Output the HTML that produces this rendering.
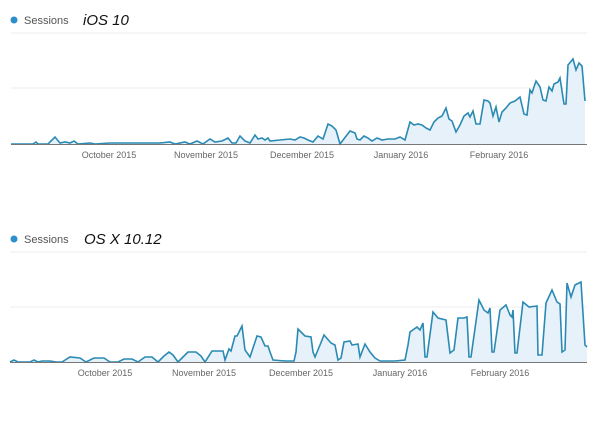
<!DOCTYPE html>
<html><head><meta charset="utf-8"><style>
html,body{margin:0;padding:0;background:#fff;width:600px;height:423px;overflow:hidden}
</style></head><body>
<svg width="600" height="423" xmlns="http://www.w3.org/2000/svg">
<g font-family="Liberation Sans, sans-serif">
<circle cx="14" cy="20" r="3.5" fill="#2d8fc9"/>
<text x="24" y="24" font-size="11" fill="#555">Sessions</text>
<text x="83" y="25" font-size="15" font-style="italic" fill="#111">iOS 10</text>
<line x1="11" y1="33" x2="587" y2="33" stroke="#eee"/>
<line x1="11" y1="88" x2="587" y2="88" stroke="#eee"/>
<polygon fill="#e6f1f9" points="11,144 33,144 36,142 38,144 48,144 55,137 60,143 65,142 70,143 74,141 78,144 90,143 95,144 110,143 130,143 160,143 170,142 175,144 185,142 190,144 197,141 203,144 210,139 215,142 222,141 228,138 232,143 236,143 240,136 245,141 250,143 255,135 258,139 262,138 265,140 268,138 270,141 280,140 290,139 295,140 300,137 304,138 308,140 313,142 318,136 323,139 328,124 332,126 336,130 340,144 350,131 355,133 357,139 360,140 364,136 368,138 372,141 377,138 382,140 388,139 395,139 400,137 405,140 410,122 414,125 418,124 422,125 426,128 430,130 434,122 438,118 442,116 446,108 449,119 452,121 456,132 460,125 464,116 468,113 470,117 473,111 476,124 480,124 484,100 488,101 490,103 493,116 496,107 499,122 502,112 506,108 510,103 515,101 520,97 524,114 527,115 530,90 532,93 536,81 540,87 543,100 546,101 549,87 552,91 554,84 558,82 560,78 564,104 566,104 568,65 573,59 576,70 579,63 582,66 585,101 585,144"/>
<polyline fill="none" stroke="#2a8ab3" stroke-width="1.6" points="11,144 33,144 36,142 38,144 48,144 55,137 60,143 65,142 70,143 74,141 78,144 90,143 95,144 110,143 130,143 160,143 170,142 175,144 185,142 190,144 197,141 203,144 210,139 215,142 222,141 228,138 232,143 236,143 240,136 245,141 250,143 255,135 258,139 262,138 265,140 268,138 270,141 280,140 290,139 295,140 300,137 304,138 308,140 313,142 318,136 323,139 328,124 332,126 336,130 340,144 350,131 355,133 357,139 360,140 364,136 368,138 372,141 377,138 382,140 388,139 395,139 400,137 405,140 410,122 414,125 418,124 422,125 426,128 430,130 434,122 438,118 442,116 446,108 449,119 452,121 456,132 460,125 464,116 468,113 470,117 473,111 476,124 480,124 484,100 488,101 490,103 493,116 496,107 499,122 502,112 506,108 510,103 515,101 520,97 524,114 527,115 530,90 532,93 536,81 540,87 543,100 546,101 549,87 552,91 554,84 558,82 560,78 564,104 566,104 568,65 573,59 576,70 579,63 582,66 585,101"/>
<line x1="11" y1="144.5" x2="587" y2="144.5" stroke="#777" stroke-width="1"/>
<g font-size="9" fill="#666" text-anchor="middle">
<text x="109" y="158">October 2015</text>
<text x="206" y="158">November 2015</text>
<text x="302" y="158">December 2015</text>
<text x="401" y="158">January 2016</text>
<text x="499" y="158">February 2016</text>
</g>

<circle cx="14" cy="239" r="3.5" fill="#2d8fc9"/>
<text x="24" y="243" font-size="11" fill="#555">Sessions</text>
<text x="84" y="244" font-size="15" font-style="italic" fill="#111">OS X 10.12</text>
<line x1="10" y1="252" x2="587" y2="252" stroke="#eee"/>
<line x1="10" y1="307" x2="587" y2="307" stroke="#eee"/>
<polygon fill="#e6f1f9" points="10,362 14,360 18,362 30,362 34,360 38,362 42,361 50,361 56,362 62,362 70,357 80,358 86,362 94,358 104,358 110,362 118,362 124,359 132,359 138,362 145,357 152,357 158,362 164,356 169,352 173,355 178,362 184,356 188,352 196,352 201,356 205,362 212,351 220,351 223,351 225,360 229,349 231,351 235,336 237,336 242,326 245,350 250,357 257,336 261,337 265,346 268,346 270,352 273,360 285,361 294,361 296,352 298,329 305,336 311,337 313,352 315,357 320,345 324,335 331,343 335,345 338,360 341,358 344,342 350,341 352,345 358,344 360,357 365,344 370,352 375,358 380,361 395,361 405,360 408,345 410,332 417,327 420,330 423,323 425,357 427,357 433,312 438,318 446,320 450,353 454,350 458,318 464,318 467,317 469,357 471,357 479,300 484,310 488,313 490,308 492,352 494,352 500,310 506,305 510,315 512,317 513,310 515,353 517,353 523,302 529,307 537,306 538,355 542,355 546,303 552,290 557,302 560,304 562,352 565,350 567,283 571,297 575,285 581,282 585,345 587,347 587,362"/>
<polyline fill="none" stroke="#2a8ab3" stroke-width="1.6" points="10,362 14,360 18,362 30,362 34,360 38,362 42,361 50,361 56,362 62,362 70,357 80,358 86,362 94,358 104,358 110,362 118,362 124,359 132,359 138,362 145,357 152,357 158,362 164,356 169,352 173,355 178,362 184,356 188,352 196,352 201,356 205,362 212,351 220,351 223,351 225,360 229,349 231,351 235,336 237,336 242,326 245,350 250,357 257,336 261,337 265,346 268,346 270,352 273,360 285,361 294,361 296,352 298,329 305,336 311,337 313,352 315,357 320,345 324,335 331,343 335,345 338,360 341,358 344,342 350,341 352,345 358,344 360,357 365,344 370,352 375,358 380,361 395,361 405,360 408,345 410,332 417,327 420,330 423,323 425,357 427,357 433,312 438,318 446,320 450,353 454,350 458,318 464,318 467,317 469,357 471,357 479,300 484,310 488,313 490,308 492,352 494,352 500,310 506,305 510,315 512,317 513,310 515,353 517,353 523,302 529,307 537,306 538,355 542,355 546,303 552,290 557,302 560,304 562,352 565,350 567,283 571,297 575,285 581,282 585,345 587,347"/>
<line x1="10" y1="362.5" x2="587" y2="362.5" stroke="#777" stroke-width="1"/>
<g font-size="9" fill="#666" text-anchor="middle">
<text x="105" y="376">October 2015</text>
<text x="204" y="376">November 2015</text>
<text x="301" y="376">December 2015</text>
<text x="400" y="376">January 2016</text>
<text x="500" y="376">February 2016</text>
</g>
</g>
</svg>
</body></html>
